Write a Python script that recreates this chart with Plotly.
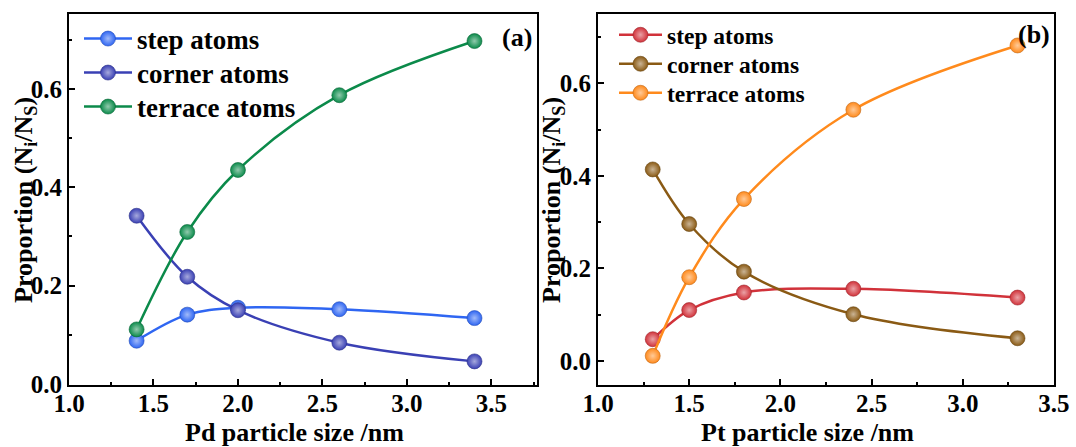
import plotly.graph_objects as go

# ---- data ----
pd_size = [1.4, 1.7, 2.0, 2.6, 3.4]
pd_step = [0.088, 0.141, 0.155, 0.152, 0.134]
pd_corner = [0.342, 0.218, 0.150, 0.084, 0.046]
pd_terrace = [0.111, 0.309, 0.435, 0.587, 0.697]

pt_size = [1.3, 1.5, 1.8, 2.4, 3.3]
pt_step = [0.047, 0.110, 0.148, 0.156, 0.137]
pt_corner = [0.414, 0.296, 0.193, 0.101, 0.049]
pt_terrace = [0.011, 0.181, 0.350, 0.543, 0.682]

series_names = ["step atoms", "corner atoms", "terrace atoms"]
x_ticks = [1.0, 1.5, 2.0, 2.5, 3.0, 3.5]
y_ticks = [0.0, 0.2, 0.4, 0.6]

FONT = "Liberation Serif, Times New Roman, serif"

W, H = 1076, 447


def px_x(p):
    return p / W


def px_y(p):
    return 1 - p / H


def tint(hexc, f):
    hexc = hexc.lstrip("#")
    r, g, b = (int(hexc[i:i + 2], 16) for i in (0, 2, 4))
    r, g, b = (int(c + (255 - c) * f) for c in (r, g, b))
    return f"rgb({r},{g},{b})"


def shade(hexc, f):
    hexc = hexc.lstrip("#")
    r, g, b = (int(hexc[i:i + 2], 16) for i in (0, 2, 4))
    r, g, b = (int(c * (1 - f)) for c in (r, g, b))
    return f"rgb({r},{g},{b})"


fig = go.Figure()

left_colors = ["#2F66F2", "#3A40B4", "#0B8A4A"]
right_colors = ["#D1323A", "#8A5A14", "#FF8A1C"]


def add(xs, ys, name, color, xa, ya, legend):
    fig.add_trace(go.Scatter(
        x=xs, y=ys, name=name, mode="lines+markers",
        line=dict(color=color, width=2.5, shape="spline", smoothing=1.0),
        marker=dict(size=15, color=color,
                    gradient=dict(type="radial", color=tint(color, 0.55)),
                    line=dict(width=0.6, color=shade(color, 0.25))),
        xaxis=xa, yaxis=ya, legend=legend,
    ))


left_legends = ["legend", "legend2", "legend3"]
right_legends = ["legend4", "legend5", "legend6"]
for ys, nm, c, lg in zip([pd_step, pd_corner, pd_terrace], series_names, left_colors, left_legends):
    add(pd_size, ys, nm, c, "x", "y", lg)
for ys, nm, c, lg in zip([pt_step, pt_corner, pt_terrace], series_names, right_colors, right_legends):
    add(pt_size, ys, nm, c, "x2", "y2", lg)

tickfont = dict(family=FONT, size=25, color="black", weight="bold")

axis_common = dict(
    showline=True, linewidth=2, linecolor="black", mirror=True,
    ticks="inside", ticklen=6, tickwidth=1.5, tickcolor="black",
    showgrid=False, zeroline=False, tickfont=tickfont, automargin=False,
)

dom_y = [px_y(385), px_y(14)]

layout = dict(
    width=W, height=H,
    margin=dict(l=0, r=0, t=0, b=0),
    paper_bgcolor="white", plot_bgcolor="white",
    xaxis=dict(domain=[px_x(69), px_x(537)], range=[0.9999, 3.77],
               tickvals=x_ticks, tickformat=".1f", ticklabelstandoff=-5,
               minor=dict(ticks="inside", ticklen=3, dtick=0.25, tick0=1.0, tickcolor="black"),
               anchor="y", **axis_common),
    yaxis=dict(domain=dom_y, range=[-0.002, 0.752],
               tickvals=y_ticks, tickformat=".1f",
               minor=dict(ticks="inside", ticklen=3, dtick=0.1, tick0=0, tickcolor="black"),
               anchor="x", **axis_common),
    xaxis2=dict(domain=[px_x(598), px_x(1054)], range=[0.9999, 3.5001],
                tickvals=x_ticks, tickformat=".1f", ticklabelstandoff=-5,
                minor=dict(ticks="inside", ticklen=3, dtick=0.25, tick0=1.0, tickcolor="black"),
                anchor="y2", **axis_common),
    yaxis2=dict(domain=dom_y, range=[-0.052, 0.75],
                tickvals=y_ticks, tickformat=".1f",
                minor=dict(ticks="inside", ticklen=3, dtick=0.1, tick0=0, tickcolor="black"),
                anchor="x2", **axis_common),
    showlegend=True,
)

left_leg_y = [39, 73, 107]
right_leg_y = [35, 64, 93]
for lg, yy in zip(left_legends, left_leg_y):
    layout[lg] = dict(x=px_x(79), y=px_y(yy), xanchor="left", yanchor="middle",
                      bgcolor="rgba(0,0,0,0)", borderwidth=0, itemwidth=48,
                      font=dict(family=FONT, size=27, color="black", weight="bold"))
for lg, yy in zip(right_legends, right_leg_y):
    layout[lg] = dict(x=px_x(614), y=px_y(yy), xanchor="left", yanchor="middle",
                      bgcolor="rgba(0,0,0,0)", borderwidth=0, itemwidth=43,
                      font=dict(family=FONT, size=23.5, color="black", weight="bold"))

fig.update_layout(**layout)

title_font = dict(family=FONT, size=26, color="black", weight="bold")
ann = [
    dict(text="Pd particle size /nm", x=px_x(294), y=px_y(432)),
    dict(text="Pt particle size /nm", x=px_x(807), y=px_y(432)),
    dict(text="Proportion (N<sub>i</sub>/N<sub>S</sub>)", x=px_x(25), y=px_y(200), textangle=-90),
    dict(text="Proportion (N<sub>i</sub>/N<sub>S</sub>)", x=px_x(553), y=px_y(200), textangle=-90),
    dict(text="(a)", x=px_x(517), y=px_y(37)),
    dict(text="(b)", x=px_x(1034), y=px_y(35)),
]
for a in ann:
    fig.add_annotation(xref="paper", yref="paper", showarrow=False,
                       xanchor="center", yanchor="middle",
                       font=title_font, **a)

fig.write_html("out.html")
